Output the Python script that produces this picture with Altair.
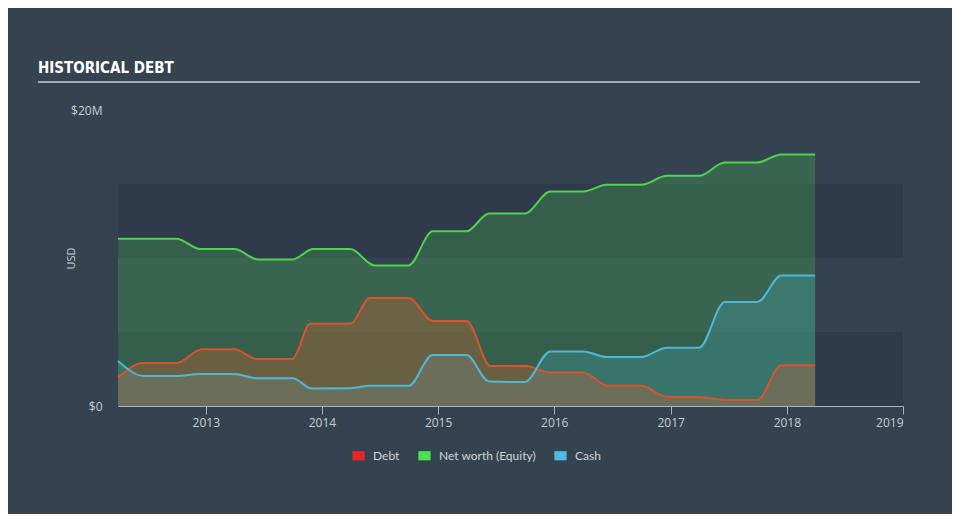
import altair as alt
import pandas as pd

# ---- data (values in $ millions) ----
eq_dates = ["2012-03-31", "2012-09-30", "2012-12-15", "2013-03-31", "2013-06-15", "2013-09-30",
            "2013-12-05", "2014-03-31", "2014-06-15", "2014-09-30", "2014-12-15", "2015-03-31",
            "2015-06-10", "2015-09-30", "2015-12-20", "2016-03-31", "2016-06-15", "2016-09-30",
            "2016-12-20", "2017-03-31", "2017-06-20", "2017-09-30", "2017-12-15", "2018-03-31"]
eq_vals = [11.3, 11.3, 10.6, 10.6, 9.9, 9.9, 10.6, 10.6, 9.5, 9.5, 11.8, 11.8,
           13.0, 13.0, 14.5, 14.5, 14.95, 14.95, 15.55, 15.55, 16.45, 16.45, 17.0, 17.0]

debt_dates = ["2012-03-31", "2012-06-20", "2012-09-30", "2012-12-20", "2013-03-31", "2013-06-10",
              "2013-09-30", "2013-11-25", "2014-03-31", "2014-06-01", "2014-09-30", "2014-12-15",
              "2015-03-31", "2015-06-15", "2015-09-30", "2015-12-20", "2016-03-31", "2016-06-20",
              "2016-09-30", "2016-12-20", "2017-03-31", "2017-06-30", "2017-09-30", "2017-12-15",
              "2018-03-31"]
debt_vals = [1.93, 2.9, 2.9, 3.83, 3.83, 3.18, 3.18, 5.55, 5.55, 7.3, 7.3, 5.75,
             5.75, 2.7, 2.72, 2.26, 2.26, 1.36, 1.36, 0.63, 0.6, 0.4, 0.4, 2.75, 2.75]

cash_dates = ["2012-03-31", "2012-06-20", "2012-09-30", "2012-12-15", "2013-03-31", "2013-06-10",
              "2013-09-30", "2013-12-01", "2014-03-31", "2014-06-01", "2014-09-30", "2014-12-15",
              "2015-03-31", "2015-06-10", "2015-09-30", "2015-12-20", "2016-03-31", "2016-06-15",
              "2016-09-30", "2016-12-20", "2017-03-31", "2017-06-20", "2017-09-30", "2017-12-15",
              "2018-03-31"]
cash_vals = [3.04, 2.03, 2.03, 2.17, 2.17, 1.88, 1.88, 1.18, 1.2, 1.36, 1.36, 3.44,
             3.44, 1.66, 1.62, 3.69, 3.69, 3.31, 3.31, 3.94, 3.94, 7.03, 7.03, 8.81, 8.81]

series_names = ["Debt", "Net worth (Equity)", "Cash"]
series_colors = ["#e8262a", "#4fe04f", "#4bbde0"]
fill_colors = {"Debt": "#e0602e", "Net worth (Equity)": "#4fe04f", "Cash": "#4bbde0"}
line_colors = {"Debt": "#d9532f", "Net worth (Equity)": "#4fd34d", "Cash": "#4db8d8"}

band_lo = [0, 10]
band_hi = [5, 15]
x_start, x_end = "2012-03-31", "2019-01-01"
year_ticks = [2013, 2014, 2015, 2016, 2017, 2018, 2019]

df = pd.concat([
    pd.DataFrame({"date": eq_dates, "value": eq_vals, "series": "Net worth (Equity)"}),
    pd.DataFrame({"date": debt_dates, "value": debt_vals, "series": "Debt"}),
    pd.DataFrame({"date": cash_dates, "value": cash_vals, "series": "Cash"}),
], ignore_index=True)

bands_df = pd.DataFrame({"lo": band_lo, "hi": band_hi, "start": x_start, "end": x_end})

xscale = alt.Scale(domain=[x_start, x_end])
yscale = alt.Scale(domain=[0, 20])
cscale = alt.Scale(domain=series_names, range=series_colors)

X = alt.X("date:T", scale=xscale, title=None,
          axis=alt.Axis(values=[alt.DateTime(year=y, month=1, date=1) for y in year_ticks],
                        format="%Y", grid=False, domainColor="#aab3bd", tickColor="#aab3bd",
                        tickSize=8, labelColor="#c8cdd3", labelFontSize=12, labelPadding=3,
                        labelFont="Open Sans"))
Y = alt.Y("value:Q", scale=yscale, title="USD",
          axis=alt.Axis(values=[0, 20], domain=False, ticks=False, grid=False,
                        labelExpr="datum.value == 0 ? '$0' : '$' + datum.value + 'M'",
                        labelColor="#c8cdd3", labelFontSize=12, labelPadding=16,
                        labelFont="Open Sans", titleColor="#c8cdd3", titleFontSize=11,
                        titleFontWeight="normal", titleFont="Open Sans",
                        titleX=-42, titleY=148, titleAngle=270))

base = alt.Chart(df)

bands = alt.Chart(bands_df).mark_rect(color="#2e3a49", opacity=0.8).encode(
    x=alt.X("start:T", scale=xscale), x2="end:T",
    y=alt.Y("lo:Q", scale=yscale), y2="hi:Q")

legend = alt.Legend(title=None, orient="none", legendX=234, legendY=339, direction="horizontal",
                    symbolType="M-1,-0.75H1V0.75H-1Z", symbolSize=150, symbolStrokeWidth=0,
                    symbolOpacity=1, labelColor="#d0d4d8", labelFontSize=12, labelFont="Lato",
                    columnPadding=18, labelOffset=8)

def area(name, op):
    return base.transform_filter(alt.datum.series == name).mark_area(
        interpolate="monotone", fillOpacity=op, fill=fill_colors[name]).encode(
        x=X, y=Y, color=alt.Color("series:N", scale=cscale, legend=legend))

def line(name):
    return base.transform_filter(alt.datum.series == name).mark_line(
        interpolate="monotone", strokeWidth=2, color=line_colors[name]).encode(x=X, y=Y)

title_df = pd.DataFrame({"t": ["HISTORICAL DEBT"]})
title = alt.Chart(title_df).mark_text(
    align="left", baseline="alphabetic",
    font="Liberation Sans Narrow, DejaVu Sans Condensed, Roboto, sans-serif", fontWeight="bold",
    fontSize=15, color="#ffffff").encode(text="t:N", x=alt.value(-80), y=alt.value(-37))
rule = alt.Chart(title_df).mark_rule(color="#a3abb4", strokeWidth=2).encode(
    x=alt.value(-80), x2=alt.value(802), y=alt.value(-28))

chart = alt.layer(
    bands,
    area("Net worth (Equity)", 0.22),
    area("Cash", 0.22),
    area("Debt", 0.3),
    line("Net worth (Equity)"),
    line("Debt"),
    line("Cash"),
    title,
    rule,
).properties(
    width=785, height=296, autosize="none",
    padding={"left": 110, "top": 102, "right": 49, "bottom": 108},
).configure(background="#354351").configure_view(strokeWidth=0)

chart.save("out.html", embed_options={"renderer": "svg", "actions": False})
